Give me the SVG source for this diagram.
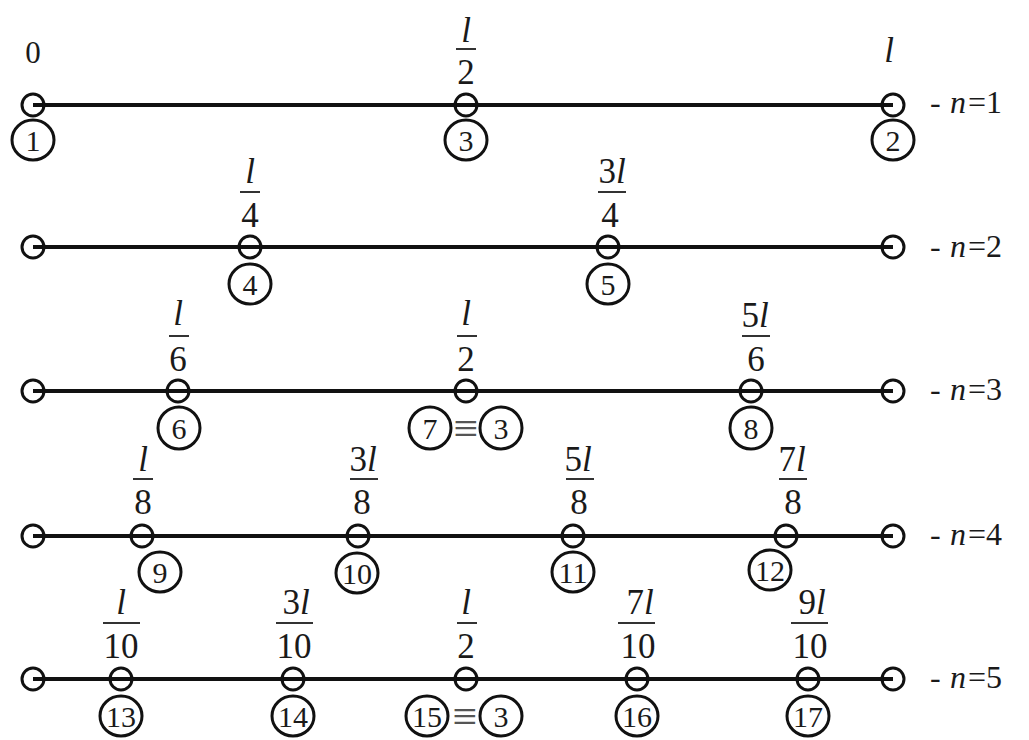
<svg xmlns="http://www.w3.org/2000/svg" width="1029" height="740" viewBox="0 0 1029 740" font-family="'Liberation Serif', 'DejaVu Serif', serif">
<style>
text{font-family:"Liberation Serif","DejaVu Serif",serif;fill:#1a1a1a}
.num{font-size:35px;text-anchor:middle}
.lab{font-size:30px;text-anchor:middle}
.n{font-size:32px}
.i{font-style:italic}
.bar{stroke:#333;stroke-width:2}
.dot{fill:none;stroke:#111;stroke-width:3}
.tag{fill:none;stroke:#111;stroke-width:3}
.ln{stroke:#111;stroke-width:4}
.eq{font-size:44px;text-anchor:middle;fill:#555}
</style>
<rect width="1029" height="740" fill="#fff"/>
<g id="connectors">
<line class="ln" x1="33" y1="105" x2="893" y2="105"/>
<line class="ln" x1="33" y1="247" x2="893" y2="247"/>
<line class="ln" x1="33" y1="391" x2="893" y2="391"/>
<line class="ln" x1="33" y1="536" x2="893" y2="536"/>
<line class="ln" x1="33" y1="679" x2="893" y2="679"/>
</g>
<!-- Row 1 -->
<g id="n1-left">
<circle class="dot" cx="33" cy="105" r="11"/>
<ellipse class="tag" cx="33" cy="140" rx="21" ry="20"/>
<text class="lab" x="33" y="151">1</text>
<text class="num" x="33" y="63" style="font-size:31px">0</text>
</g>
<g id="n1-mid">
<circle class="dot" cx="466" cy="105" r="11"/>
<ellipse class="tag" cx="466" cy="140" rx="21" ry="20"/>
<text class="lab" x="466" y="151">3</text>
<text class="num i" x="466" y="42">l</text>
<line class="bar" x1="456" y1="49" x2="476" y2="49"/>
<text class="num" x="466" y="84">2</text>
</g>
<g id="n1-right">
<circle class="dot" cx="893" cy="105" r="11"/>
<ellipse class="tag" cx="893" cy="140" rx="21" ry="20"/>
<text class="lab" x="893" y="151">2</text>
<text class="num i" x="889" y="62">l</text>
</g>
<text id="row1-label" class="n" x="930" y="113">-<tspan class="i" x="950">n</tspan><tspan x="968">=1</tspan></text>
<!-- Row 2 -->
<g id="n2-left"><circle class="dot" cx="33" cy="247" r="11"/></g>
<g id="n2-a">
<circle class="dot" cx="250" cy="247" r="11"/>
<ellipse class="tag" cx="250" cy="284" rx="21" ry="20"/>
<text class="lab" x="250" y="295">4</text>
<text class="num i" x="250" y="183">l</text>
<line class="bar" x1="240" y1="192" x2="260" y2="192"/>
<text class="num" x="250" y="227">4</text>
</g>
<g id="n2-b">
<circle class="dot" cx="608" cy="247" r="11"/>
<ellipse class="tag" cx="608" cy="284" rx="21" ry="20"/>
<text class="lab" x="608" y="295">5</text>
<text class="num" x="612" y="183">3<tspan class="i">l</tspan></text>
<line class="bar" x1="598" y1="192" x2="626" y2="192"/>
<text class="num" x="610" y="227">4</text>
</g>
<g id="n2-right"><circle class="dot" cx="893" cy="247" r="11"/></g>
<text id="row2-label" class="n" x="930" y="257">-<tspan class="i" x="950">n</tspan><tspan x="968">=2</tspan></text>
<!-- Row 3 -->
<g id="n3-left"><circle class="dot" cx="33" cy="391" r="11"/></g>
<g id="n3-a">
<circle class="dot" cx="178" cy="391" r="11"/>
<ellipse class="tag" cx="179" cy="428" rx="21" ry="21"/>
<text class="lab" x="179" y="439">6</text>
<text class="num i" x="178" y="325">l</text>
<line class="bar" x1="169" y1="336" x2="189" y2="336"/>
<text class="num" x="178" y="371">6</text>
</g>
<g id="n3-b">
<circle class="dot" cx="466" cy="391" r="11"/>
<ellipse class="tag" cx="430" cy="428" rx="21" ry="21"/>
<text class="lab" x="430" y="439">7</text>
<text class="eq" x="466" y="443">≡</text>
<ellipse class="tag" cx="501" cy="428" rx="21" ry="21"/>
<text class="lab" x="501" y="439">3</text>
<text class="num i" x="466" y="325">l</text>
<line class="bar" x1="457" y1="336" x2="477" y2="336"/>
<text class="num" x="466" y="371">2</text>
</g>
<g id="n3-c">
<circle class="dot" cx="751" cy="391" r="11"/>
<ellipse class="tag" cx="751" cy="428" rx="21" ry="21"/>
<text class="lab" x="751" y="439">8</text>
<text class="num" x="755" y="327">5<tspan class="i">l</tspan></text>
<line class="bar" x1="742" y1="336" x2="770" y2="336"/>
<text class="num" x="756" y="371">6</text>
</g>
<g id="n3-right"><circle class="dot" cx="893" cy="391" r="11"/></g>
<text id="row3-label" class="n" x="930" y="400">-<tspan class="i" x="950">n</tspan><tspan x="968">=3</tspan></text>
<!-- Row 4 -->
<g id="n4-left"><circle class="dot" cx="33" cy="536" r="11"/></g>
<g id="n4-a">
<circle class="dot" cx="142" cy="536" r="11"/>
<ellipse class="tag" cx="160" cy="572" rx="21" ry="20"/>
<text class="lab" x="160" y="583">9</text>
<text class="num i" x="143" y="471">l</text>
<line class="bar" x1="133" y1="479" x2="153" y2="479"/>
<text class="num" x="143" y="514">8</text>
</g>
<g id="n4-b">
<circle class="dot" cx="358" cy="536" r="11"/>
<ellipse class="tag" cx="357" cy="573" rx="21" ry="20"/>
<text class="lab" x="357" y="584">10</text>
<text class="num" x="363" y="471">3<tspan class="i">l</tspan></text>
<line class="bar" x1="350" y1="479" x2="378" y2="479"/>
<text class="num" x="362" y="514">8</text>
</g>
<g id="n4-c">
<circle class="dot" cx="573" cy="536" r="11"/>
<ellipse class="tag" cx="573" cy="572" rx="21" ry="20"/>
<text class="lab" x="573" y="583">11</text>
<text class="num" x="578" y="471">5<tspan class="i">l</tspan></text>
<line class="bar" x1="566" y1="479" x2="594" y2="479"/>
<text class="num" x="579" y="514">8</text>
</g>
<g id="n4-d">
<circle class="dot" cx="786" cy="536" r="11"/>
<ellipse class="tag" cx="770" cy="570" rx="21" ry="20"/>
<text class="lab" x="770" y="581">12</text>
<text class="num" x="792" y="471">7<tspan class="i">l</tspan></text>
<line class="bar" x1="779" y1="479" x2="807" y2="479"/>
<text class="num" x="793" y="514">8</text>
</g>
<g id="n4-right"><circle class="dot" cx="893" cy="536" r="11"/></g>
<text id="row4-label" class="n" x="930" y="545">-<tspan class="i" x="950">n</tspan><tspan x="968">=4</tspan></text>
<!-- Row 5 -->
<g id="n5-left"><circle class="dot" cx="33" cy="679" r="11"/></g>
<g id="n5-a">
<circle class="dot" cx="121" cy="679" r="11"/>
<ellipse class="tag" cx="121" cy="716" rx="21" ry="20"/>
<text class="lab" x="121" y="727">13</text>
<text class="num i" x="121" y="614">l</text>
<line class="bar" x1="103" y1="623" x2="140" y2="623"/>
<text class="num" x="121" y="658">10</text>
</g>
<g id="n5-b">
<circle class="dot" cx="293" cy="679" r="11"/>
<ellipse class="tag" cx="293" cy="716" rx="21" ry="20"/>
<text class="lab" x="293" y="727">14</text>
<text class="num" x="296" y="614">3<tspan class="i">l</tspan></text>
<line class="bar" x1="276" y1="623" x2="313" y2="623"/>
<text class="num" x="294" y="658">10</text>
</g>
<g id="n5-c">
<circle class="dot" cx="466" cy="679" r="11"/>
<ellipse class="tag" cx="427" cy="716" rx="21" ry="20"/>
<text class="lab" x="427" y="727">15</text>
<text class="eq" x="465" y="731">≡</text>
<ellipse class="tag" cx="501" cy="716" rx="21" ry="20"/>
<text class="lab" x="501" y="727">3</text>
<text class="num i" x="466" y="614">l</text>
<line class="bar" x1="457" y1="623" x2="477" y2="623"/>
<text class="num" x="466" y="658">2</text>
</g>
<g id="n5-d">
<circle class="dot" cx="637" cy="679" r="11"/>
<ellipse class="tag" cx="637" cy="716" rx="21" ry="20"/>
<text class="lab" x="637" y="727">16</text>
<text class="num" x="640" y="614">7<tspan class="i">l</tspan></text>
<line class="bar" x1="618" y1="623" x2="655" y2="623"/>
<text class="num" x="638" y="658">10</text>
</g>
<g id="n5-e">
<circle class="dot" cx="808" cy="679" r="11"/>
<ellipse class="tag" cx="808" cy="716" rx="21" ry="20"/>
<text class="lab" x="808" y="727">17</text>
<text class="num" x="812" y="614">9<tspan class="i">l</tspan></text>
<line class="bar" x1="791" y1="623" x2="828" y2="623"/>
<text class="num" x="810" y="658">10</text>
</g>
<g id="n5-right"><circle class="dot" cx="893" cy="679" r="11"/></g>
<text id="row5-label" class="n" x="930" y="688">-<tspan class="i" x="950">n</tspan><tspan x="968">=5</tspan></text>
</svg>
